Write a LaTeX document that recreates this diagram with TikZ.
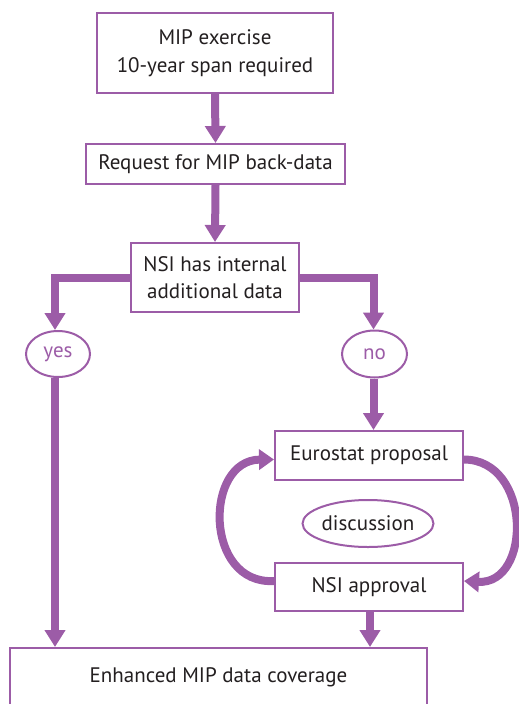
\documentclass[tikz,border=0pt]{standalone}
\usepackage{fontspec}
\setmainfont{PT Sans}
\usetikzlibrary{arrows.meta,shapes.geometric}
\definecolor{purp}{HTML}{9C5CA7}
\definecolor{ink}{HTML}{231F20}
\begin{document}
\begin{tikzpicture}[x=1pt,y=-1pt,
  box/.style={draw=purp,line width=2pt,fill=white,text=ink,inner sep=0pt,align=center,font=\fontsize{21}{27.5}\selectfont},
  oval/.style={ellipse,draw=purp,line width=2pt,fill=white,inner sep=0pt,font=\fontsize{21}{25}\selectfont},
  arr/.style={draw=purp,line width=8pt,-{Triangle[width=20pt,length=17pt]}},
  loop/.style={draw=purp,line width=8pt,-{Triangle[width=20pt,length=15pt]}}]
\useasboundingbox (0,0) rectangle (519,704);
\clip (0,0) rectangle (519,704);
\node[box,minimum width=236pt,minimum height=80pt] (top) at (215,53) {MIP exercise\\10-year span required};
\node[box,minimum width=259pt,minimum height=40pt] (req) at (215.5,164) {Request for MIP back-data};
\node[box,minimum width=168pt,minimum height=69pt] (nsi) at (215,277.5) {NSI has internal\\additional data};
\node[oval,text=purp,minimum width=64pt,minimum height=46pt] (yes) at (58,354) {yes};
\node[oval,text=purp,minimum width=65pt,minimum height=47pt] (no) at (374.5,354) {no};
\node[box,minimum width=188pt,minimum height=49pt] (euro) at (369,455.5) {Eurostat proposal};
\node[oval,text=ink,minimum width=110pt,minimum height=47pt] (disc) at (368,523.5) {discussion};
\node[box,minimum width=188pt,minimum height=48pt] (appr) at (369,587) {NSI approval};
\node[box,minimum width=417pt,minimum height=58pt] (enh) at (218.5,677) {Enhanced MIP data coverage};
\coordinate (eR) at ([yshift=-4pt]euro.east);
\coordinate (aR) at ([yshift=6pt]appr.east);
\coordinate (eL) at ([yshift=-4pt]euro.west);
\coordinate (aL) at ([yshift=6pt]appr.west);
\draw[arr] (top.south) -- (req.north);
\draw[arr] (req.south) -- (nsi.north);
\draw[arr] (nsi.west) -| ([xshift=-3pt]yes.north);
\draw[arr] (nsi.east) -| ([xshift=-1pt]no.north);
\draw[arr] ([xshift=-3pt]yes.south) -- ([xshift=-3pt]yes.south |- enh.north);
\draw[arr] ([xshift=-1pt]no.south) -- ([xshift=-1pt]no.south |- euro.north);
\draw[arr] ([xshift=1pt]appr.south) -- ([xshift=1pt]appr.south |- enh.north);
\draw[loop] (eR) .. controls (532,460) and (532,585) .. (aR);
\draw[loop] (aL) .. controls (204,585) and (204,460) .. (eL);
\end{tikzpicture}
\end{document}
